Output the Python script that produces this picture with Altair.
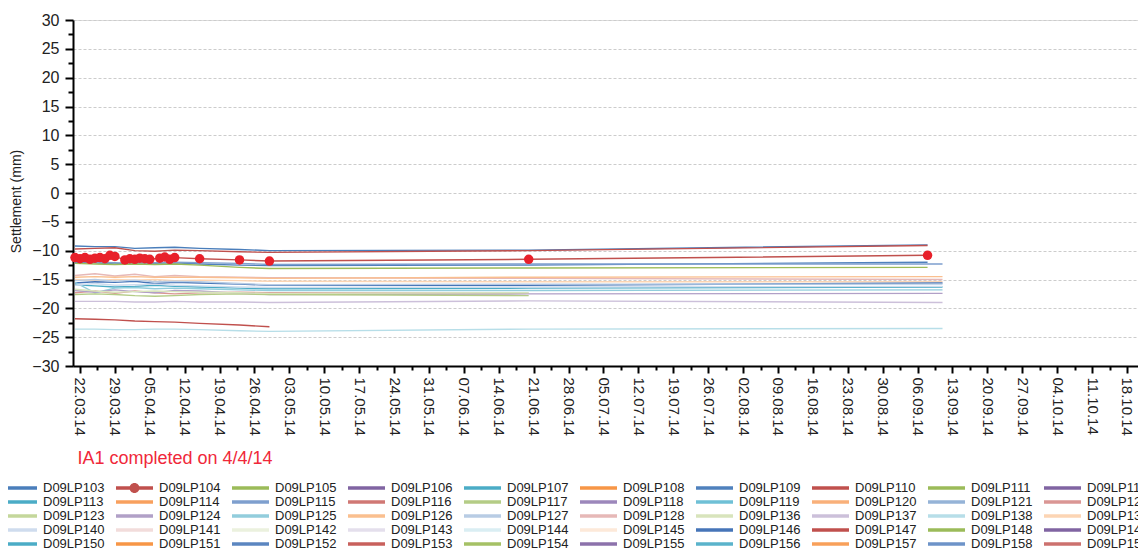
import altair as alt
import pandas as pd

# ---------------- data ----------------
series = [
    "D09LP103", "D09LP104", "D09LP105", "D09LP106", "D09LP107", "D09LP108", "D09LP109", "D09LP110", "D09LP111", "D09LP112",
    "D09LP113", "D09LP114", "D09LP115", "D09LP116", "D09LP117", "D09LP118", "D09LP119", "D09LP120", "D09LP121", "D09LP122",
    "D09LP123", "D09LP124", "D09LP125", "D09LP126", "D09LP127", "D09LP128", "D09LP136", "D09LP137", "D09LP138", "D09LP139",
    "D09LP140", "D09LP141", "D09LP142", "D09LP143", "D09LP144", "D09LP145", "D09LP146", "D09LP147", "D09LP148", "D09LP149",
    "D09LP150", "D09LP151", "D09LP152", "D09LP153", "D09LP154", "D09LP155", "D09LP156", "D09LP157", "D09LP158", "D09LP159",
]
series_colors = [
    "#4a7ebb", "#c0504d", "#9bbb59", "#8064a2", "#4bacc6", "#f79646", "#4f81bd", "#c0504d", "#9bbb59", "#8064a2",
    "#4bacc6", "#f8a05e", "#7e9fce", "#d07874", "#b4cc86", "#9c87bb", "#6fc0d6", "#f9b07a", "#95b3d7", "#da9694",
    "#c4d79b", "#b1a0c7", "#92cddc", "#fabf8f", "#b8cce4", "#e6b8b7", "#d8e4bc", "#ccc0da", "#b7dee8", "#fcd5b4",
    "#cfdcee", "#f2dcdb", "#ebf1de", "#e4dfec", "#daeef3", "#fde9d9", "#4675b8", "#c0504d", "#9bbb59", "#8064a2",
    "#4bacc6", "#f79646", "#5b86c0", "#c8605c", "#a5c165", "#8c72ab", "#5ab3cb", "#f8a05a", "#6d93c8", "#cc716e",
]

# survey dates shared by most points
line_dates = ["2014-03-21", "2014-03-25", "2014-03-29", "2014-04-02", "2014-04-06", "2014-04-10",
              "2014-04-15", "2014-04-23", "2014-04-29", "2014-06-20", "2014-09-08", "2014-09-11"]

readings = {
    "D09LP103": [-9.2, -9.3, -9.3, -9.6, -9.5, -9.4, -9.6, -9.8, -10.0, -9.9, -9.0, None],
    "D09LP110": [-9.7, -9.6, -9.5, -10.0, -10.1, -9.9, -10.0, -10.2, -10.3, -10.0, -9.1, None],
    "D09LP109": [-12.0, -12.1, -12.3, -12.1, -12.2, -12.1, -12.3, -12.5, -12.6, -12.5, -12.0, None],
    "D09LP115": [-11.9, -12.0, -12.1, -12.2, -12.1, -12.0, -12.1, -12.2, -12.4, -12.3, None, -12.3],
    "D09LP105": [-12.2, -12.3, -12.4, -12.3, -12.4, -12.3, -12.5, -12.9, -13.1, -13.0, -12.9, None],
    "D09LP128": [-14.3, -14.0, -14.4, -14.1, -14.5, -14.3, -14.5, -14.6, -14.7, -14.8, None, -15.0],
    "D09LP126": [-14.6, -14.5, -14.6, -14.5, -14.6, -14.6, -14.6, -14.7, -14.8, -14.6, None, -14.5],
    "D09LP139": [-15.0, -15.2, -15.0, -15.1, -15.0, -15.2, -15.1, -15.2, -15.3, -15.4, None, -15.4],
    "D09LP146": [-15.6, -15.4, -15.5, -15.3, -15.7, -15.5, -15.6, -15.8, -16.0, -16.0, None, -15.6],
    "D09LP127": [-15.2, -15.0, -15.3, -15.1, -15.4, -15.3, -15.4, -15.7, -15.9, -15.8, None, -15.8],
    "D09LP113": [-15.9, -16.1, -16.3, -16.2, -16.0, -16.2, -16.3, -16.5, -16.6, -16.5, None, -16.3],
    "D09LP125": [-15.5, -17.3, -16.5, -16.4, -16.6, -16.5, -16.6, -16.8, -16.9, -16.9, None, -16.8],
    "D09LP140": [-16.0, -15.7, -16.0, -15.9, -15.8, -16.0, -16.1, -16.3, -16.4, -16.3, None, -16.2],
    "D09LP122": [-17.3, -17.0, -17.4, -17.0, -17.3, -17.5, -17.3, -17.2, -17.3, -17.4, None, None],
    "D09LP124": [-16.9, -17.2, -16.8, -17.1, -17.3, -16.9, -17.0, -17.4, -17.6, -17.5, None, -17.4],
    "D09LP117": [-17.6, -17.5, -17.6, -17.8, -17.9, -17.8, -17.6, -17.5, -17.6, -17.8, None, None],
    "D09LP136": [-16.7, -17.0, -17.2, -17.1, -17.0, -17.1, -17.2, -17.3, -17.4, -17.3, None, None],
    "D09LP137": [-18.8, -18.8, -18.8, -18.9, -18.9, -18.8, -18.9, -18.9, -19.0, -18.7, None, -19.0],
    "D09LP147": [-21.8, -21.9, -22.0, -22.2, -22.3, -22.4, -22.6, -22.9, -23.2, None, None, None],
    "D09LP138": [-23.6, -23.6, -23.7, -23.7, -23.6, -23.6, -23.7, -23.9, -24.0, -23.6, None, -23.5],
}

# D09LP104 (monitored with markers)
lp104_dates = ["2014-03-21", "2014-03-22", "2014-03-23", "2014-03-24", "2014-03-25", "2014-03-26",
               "2014-03-27", "2014-03-28", "2014-03-29", "2014-03-31", "2014-04-01", "2014-04-02",
               "2014-04-03", "2014-04-04", "2014-04-05", "2014-04-07", "2014-04-08", "2014-04-09",
               "2014-04-10", "2014-04-15", "2014-04-23", "2014-04-29", "2014-06-20", "2014-09-08"]
lp104_values = [-11.2, -11.4, -11.2, -11.5, -11.3, -11.2, -11.4, -10.8, -11.0, -11.6, -11.4, -11.5,
                -11.3, -11.4, -11.5, -11.3, -11.1, -11.5, -11.2, -11.4, -11.6, -11.8, -11.5, -10.8]

week_ticks = ["2014-03-22", "2014-03-29", "2014-04-05", "2014-04-12", "2014-04-19", "2014-04-26",
              "2014-05-03", "2014-05-10", "2014-05-17", "2014-05-24", "2014-05-31", "2014-06-07",
              "2014-06-14", "2014-06-21", "2014-06-28", "2014-07-05", "2014-07-12", "2014-07-19",
              "2014-07-26", "2014-08-02", "2014-08-09", "2014-08-16", "2014-08-23", "2014-08-30",
              "2014-09-06", "2014-09-13", "2014-09-20", "2014-09-27", "2014-10-04", "2014-10-11",
              "2014-10-18"]
x_domain = ["2014-03-20T14:24:00", "2014-10-20T05:00:00"]
y_major = [-30, -25, -20, -15, -10, -5, 0, 5, 10, 15, 20, 25, 30]
y_minor = [-27.5, -22.5, -17.5, -12.5, -7.5, -2.5, 2.5, 7.5, 12.5, 17.5, 22.5, 27.5]

subtitle = "IA1 completed on 4/4/14"
y_title = "Settlement (mm)"


def ms(s):
    return int(pd.Timestamp(s, tz="UTC").value // 10**6)


rows = []
for name, vals in readings.items():
    for d, v in zip(line_dates, vals):
        if v is not None:
            rows.append({"series": name, "date": d, "value": v})
for d, v in zip(lp104_dates, lp104_values):
    rows.append({"series": "D09LP104", "date": d, "value": v})
df = pd.DataFrame(rows)
df104 = pd.DataFrame({"series": "D09LP104", "date": lp104_dates, "value": lp104_values})

major_ms = [ms(t) for t in week_ticks]
minor_ms = [m + int(3.5 * 86400000) for m in major_ms[:-1]]

FONT = "Liberation Sans"
x_scale = alt.Scale(type="utc", domain=[ms(x_domain[0]), ms(x_domain[1])], nice=False)
y_scale = alt.Scale(domain=[-30, 30], nice=False, zero=False)
color_scale = alt.Scale(domain=series, range=series_colors)

bar = "M-1,-0.09L1,-0.09L1,0.09L-1,0.09Z"
dotbar = bar + "M-0.27,0A0.27,0.27,0,1,1,0.27,0A0.27,0.27,0,1,1,-0.27,0Z"
shape_scale = alt.Scale(domain=series, range=[dotbar if s == "D09LP104" else bar for s in series])

x_axis = alt.Axis(values=major_ms, labelExpr="utcFormat(datum.value, '%d.%m.%y')", labelAngle=90,
                  labelFont=FONT, labelFontSize=15, labelColor="#222222", labelPadding=4,
                  labelFlush=False, labelOverlap=False, labelBound=False,
                  tickSize=7, tickWidth=2, tickColor="black", domainColor="black", domainWidth=2,
                  grid=False, orient="bottom",
                  title=subtitle, titleFont=FONT, titleFontSize=18, titleFontWeight="normal",
                  titleColor="#f0283a", titleX=4, titleY=92, titleAlign="left", titleBaseline="middle",
                  titleAngle=0)
x_minor = alt.Axis(values=minor_ms, labels=False, domain=False, grid=False, tickSize=4, tickWidth=2,
                   tickColor="black", title=None, orient="bottom")
y_axis = alt.Axis(values=y_major, labelFont=FONT, labelFontSize=16, labelColor="#222222", labelPadding=6,
                  tickSize=8, tickWidth=2, tickColor="black", domainColor="black", domainWidth=2,
                  grid=True, gridDash=[3, 2], gridColor="#cccccc", gridWidth=1,
                  title=y_title, titleFont=FONT, titleFontSize=14, titleFontWeight="normal",
                  titleColor="#222222", titleX=-57, titleY=181, titleBaseline="middle", titleAngle=270,
                  orient="left")
y_minor_axis = alt.Axis(values=y_minor, labels=False, domain=False, grid=False, tickSize=5, tickWidth=2,
                        tickColor="black", title=None, orient="left")

legend = alt.Legend(orient="none", legendX=-73, legendY=461, columns=10, direction="horizontal",
                    title=None, labelFont=FONT, labelFontSize=13, labelColor="#222222", labelOffset=6,
                    labelLimit=200, symbolSize=1369, symbolStrokeWidth=0, symbolOpacity=1,
                    clipHeight=14, rowPadding=0, columnPadding=11, gridAlign="all", padding=0,
                    symbolLimit=60)

# legend layer first so its (enabled) legend wins the merge
legend_layer = alt.Chart(df).mark_point(filled=True, opacity=0).encode(
    x=alt.X("date:T", scale=x_scale, axis=None),
    y=alt.Y("value:Q", scale=y_scale, axis=None),
    color=alt.Color("series:N", scale=color_scale, legend=legend),
    shape=alt.Shape("series:N", scale=shape_scale, legend=legend),
)

lines = alt.Chart(df).mark_line(strokeWidth=1.4).encode(
    x=alt.X("date:T", scale=x_scale, axis=x_axis),
    y=alt.Y("value:Q", scale=y_scale, axis=y_axis),
    color=alt.Color("series:N", scale=color_scale, legend=legend),
)

markers = alt.Chart(df104).mark_point(filled=True, size=90, opacity=1, color="#e8202a").encode(
    x=alt.X("date:T", scale=x_scale, axis=x_minor),
    y=alt.Y("value:Q", scale=y_scale, axis=y_minor_axis),
)

chart = alt.layer(legend_layer, lines, markers).resolve_axis(
    x="independent", y="independent"
).properties(
    width=1065,
    height=346,
    padding={"left": 65, "top": 12, "right": 0, "bottom": 186},
    autosize=alt.AutoSizeParams(type="none"),
).configure_view(stroke=None).configure(background="white")

chart.save("out.html", embed_options={"renderer": "svg", "actions": False})
